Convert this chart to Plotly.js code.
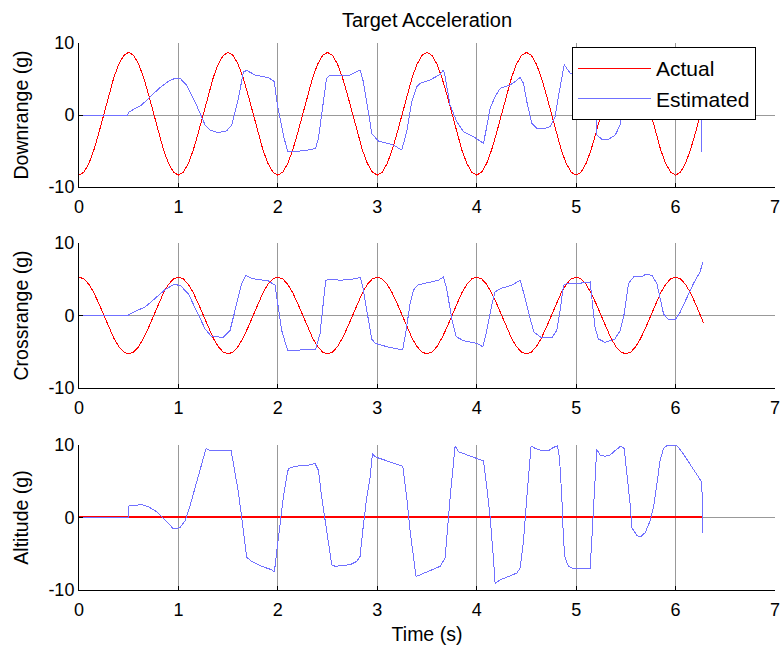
<!DOCTYPE html>
<html>
<head>
<meta charset="utf-8">
<script src="https://cdn.plot.ly/plotly-3.0.1.min.js"></script>
<style>
html,body{margin:0;padding:0;background:#fff;}
#chart{width:784px;height:655px;}
#chart path.js-line, #chart .legendlines path { shape-rendering: crispEdges; }
</style>
</head>
<body>
<div id="chart"></div>
<script>
// ---- Actual target acceleration (time, s) ----
const tActual = [0,0.05,0.1,0.15,0.2,0.25,0.3,0.35,0.4,0.45,
0.5,0.55,0.6,0.65,0.7,0.75,0.8,0.85,0.9,0.95,
1,1.05,1.1,1.15,1.2,1.25,1.3,1.35,1.4,1.45,
1.5,1.55,1.6,1.65,1.7,1.75,1.8,1.85,1.9,1.95,
2,2.05,2.1,2.15,2.2,2.25,2.3,2.35,2.4,2.45,
2.5,2.55,2.6,2.65,2.7,2.75,2.8,2.85,2.9,2.95,
3,3.05,3.1,3.15,3.2,3.25,3.3,3.35,3.4,3.45,
3.5,3.55,3.6,3.65,3.7,3.75,3.8,3.85,3.9,3.95,
4,4.05,4.1,4.15,4.2,4.25,4.3,4.35,4.4,4.45,
4.5,4.55,4.6,4.65,4.7,4.75,4.8,4.85,4.9,4.95,
5,5.05,5.1,5.15,5.2,5.25,5.3,5.35,5.4,5.45,
5.5,5.55,5.6,5.65,5.7,5.75,5.8,5.85,5.9,5.95,
6,6.05,6.1,6.15,6.2,6.25,6.28];

const actualDownrange = [-8.35,-7.93,-6.72,-4.84,-2.46,0.18,2.81,5.19,7.07,8.28,
8.7,8.28,7.07,5.19,2.81,0.18,-2.46,-4.84,-6.72,-7.93,
-8.35,-7.93,-6.72,-4.84,-2.46,0.18,2.81,5.19,7.07,8.28,
8.7,8.28,7.07,5.19,2.81,0.18,-2.46,-4.84,-6.72,-7.93,
-8.35,-7.93,-6.72,-4.84,-2.46,0.18,2.81,5.19,7.07,8.28,
8.7,8.28,7.07,5.19,2.81,0.18,-2.46,-4.84,-6.72,-7.93,
-8.35,-7.93,-6.72,-4.84,-2.46,0.18,2.81,5.19,7.07,8.28,
8.7,8.28,7.07,5.19,2.81,0.18,-2.46,-4.84,-6.72,-7.93,
-8.35,-7.93,-6.72,-4.84,-2.46,0.18,2.81,5.19,7.07,8.28,
8.7,8.28,7.07,5.19,2.81,0.18,-2.46,-4.84,-6.72,-7.93,
-8.35,-7.93,-6.72,-4.84,-2.46,0.18,2.81,5.19,7.07,8.28,
8.7,8.28,7.07,5.19,2.81,0.18,-2.46,-4.84,-6.72,-7.93,
-8.35,-7.93,-6.72,-4.84,-2.46,0.18,1.77];

const actualCrossrange = [5.3,5.04,4.29,3.12,1.64,0,-1.64,-3.12,-4.29,-5.04,
-5.3,-5.04,-4.29,-3.12,-1.64,0,1.64,3.12,4.29,5.04,
5.3,5.04,4.29,3.12,1.64,0,-1.64,-3.12,-4.29,-5.04,
-5.3,-5.04,-4.29,-3.12,-1.64,0,1.64,3.12,4.29,5.04,
5.3,5.04,4.29,3.12,1.64,0,-1.64,-3.12,-4.29,-5.04,
-5.3,-5.04,-4.29,-3.12,-1.64,0,1.64,3.12,4.29,5.04,
5.3,5.04,4.29,3.12,1.64,0,-1.64,-3.12,-4.29,-5.04,
-5.3,-5.04,-4.29,-3.12,-1.64,0,1.64,3.12,4.29,5.04,
5.3,5.04,4.29,3.12,1.64,0,-1.64,-3.12,-4.29,-5.04,
-5.3,-5.04,-4.29,-3.12,-1.64,0,1.64,3.12,4.29,5.04,
5.3,5.04,4.29,3.12,1.64,0,-1.64,-3.12,-4.29,-5.04,
-5.3,-5.04,-4.29,-3.12,-1.64,0,1.64,3.12,4.29,5.04,
5.3,5.04,4.29,3.12,1.64,0,-0.99];

const tActualAltitude = [0, 6.28];
const actualAltitude = [0, 0];

// ---- Estimated target acceleration ----
const tEstDownrange = [0,0.49,0.496,0.63,0.72,0.815,0.9,0.966,1.016,1.083,1.167,1.268,1.318,1.401,1.485,1.536,1.603,1.653,1.687,1.77,1.905,1.965,1.99,2.055,2.099,2.156,2.307,2.38,2.408,2.458,2.49,2.525,2.727,2.827,2.86,2.91,2.944,3.01,3.162,3.246,3.296,3.346,3.397,3.43,3.531,3.632,3.665,3.682,3.732,3.8,3.866,3.967,4.068,4.101,4.135,4.185,4.236,4.336,4.386,4.437,4.47,4.504,4.554,4.604,4.671,4.738,4.789,4.822,4.88,4.94,5.05,5.13,5.17,5.2,5.21,5.26,5.326,5.393,5.443,5.46,5.5,5.55,5.65,5.8,5.84,5.9,5.98,6.05,6.12,6.2,6.25,6.265];
const estDownrange = [0,0,0.37,1.39,2.6,3.8,4.7,5.1,5.1,4.17,1.85,-1.39,-2.08,-2.45,-2.2,-1.39,2.3,5.97,6.2,5.55,5.2,4.63,1.85,-2.78,-5.1,-5.1,-4.86,-4.63,-3.24,1.85,5.1,5.55,5.55,6.25,4.63,0.46,-2.55,-3.6,-4.17,-4.86,-2.3,1.85,3.94,4.4,4.86,5.65,6.25,5.32,1.39,-0.93,-2.3,-3.0,-3.93,-1.62,0.93,2.55,3.7,4.17,4.63,5.23,4.4,1.85,-1.16,-1.85,-1.94,-1.62,-0.23,2.55,7.0,5.79,5.5,5.2,2.5,0,-2.78,-3.38,-3.38,-2.78,-1.39,0,3.0,5.3,5.6,6.0,5.0,2.0,1.0,1.5,4.0,6.0,6.8,-5.1];

const tEstCrossrange = [0,0.49,0.546,0.664,0.781,0.865,0.949,1.016,1.1,1.184,1.268,1.334,1.452,1.519,1.569,1.636,1.677,1.737,1.905,1.972,1.999,2.039,2.099,2.24,2.38,2.424,2.468,2.481,2.525,2.626,2.794,2.827,2.854,2.894,2.944,2.978,3.095,3.212,3.256,3.279,3.33,3.363,3.403,3.497,3.614,3.665,3.698,3.749,3.793,3.866,4.0,4.061,4.101,4.151,4.185,4.236,4.353,4.437,4.47,4.537,4.577,4.655,4.755,4.805,4.839,4.873,4.906,5.074,5.141,5.157,5.19,5.224,5.29,5.39,5.443,5.483,5.527,5.578,5.66,5.694,5.761,5.812,5.845,5.879,5.929,5.996,6.046,6.113,6.18,6.247,6.274];
const estCrossrange = [0,0,0.46,1.16,2.55,3.56,4.26,4.17,3.0,0.69,-1.85,-2.92,-3.0,-2.08,0.69,4.4,5.56,5.09,4.77,4.17,1.62,-2.08,-4.86,-4.77,-4.63,-2.55,2.55,4.86,5.0,4.86,5.09,5.32,3.94,0.69,-3.24,-3.84,-4.3,-4.63,-4.63,-3.0,1.62,3.47,4.17,4.49,4.86,5.32,3.7,-0.46,-2.92,-3.47,-3.84,-4.3,-2.08,1.39,3.24,3.7,4.17,4.86,3.24,-0.46,-2.32,-3.1,-3.1,-2.08,0.69,4.17,4.4,4.49,4.63,2.55,-1.62,-3.24,-3.7,-3.24,-2.08,0.23,4.4,5.32,5.32,5.65,5.56,4.4,2.55,0.23,-0.6,-0.6,0.46,2.55,4.4,6.02,7.41];

const tEstAltitude = [0,0.495,0.503,0.58,0.614,0.697,0.781,0.832,0.899,0.949,1.016,1.066,1.117,1.167,1.217,1.251,1.278,1.318,1.503,1.529,1.553,1.603,1.636,1.687,1.737,1.838,1.938,1.965,1.989,2.012,2.055,2.089,2.106,2.173,2.307,2.374,2.408,2.441,2.475,2.508,2.542,2.576,2.727,2.794,2.827,2.861,2.894,2.928,2.952,2.978,3.028,3.196,3.256,3.296,3.33,3.39,3.531,3.632,3.682,3.715,3.739,3.783,3.816,4.0,4.068,4.101,4.135,4.168,4.185,4.236,4.403,4.437,4.47,4.504,4.537,4.547,4.588,4.655,4.722,4.772,4.812,4.832,4.856,4.873,4.889,4.923,4.973,5.14,5.157,5.174,5.19,5.207,5.241,5.29,5.34,5.39,5.449,5.483,5.51,5.543,5.56,5.61,5.644,5.694,5.744,5.778,5.812,5.845,5.879,5.913,6.013,6.063,6.13,6.197,6.264,6.274];
const estAltitude = [0,0,1.63,1.63,1.86,1.49,0.79,0.09,-0.93,-1.54,-1.4,-0.46,1.63,4.19,6.51,8.37,9.53,9.2,9.2,9.3,7.44,3.49,0,-5.49,-6.05,-6.74,-7.21,-7.53,-4.65,-1.86,2.79,5.58,6.74,7.07,7.21,7.44,6.51,2.79,-0.46,-3.95,-6.51,-6.74,-6.51,-6.05,-5.35,-0.93,2.79,5.58,8.83,8.37,8.14,7.44,7.07,2.79,-1.86,-8.14,-7.35,-6.74,-5.58,0,3.72,9.86,9.07,8.14,7.81,4.19,0,-5.58,-9.07,-8.6,-7.67,-6.98,-3.25,2.79,7.44,9.86,9.53,9.2,9.2,9.67,9.86,8.37,2.79,-3.25,-5.58,-6.74,-7.07,-7.07,-3.25,0.47,5.12,9.39,8.6,8.46,8.6,9.2,9.86,9.53,6.05,1.86,-1.4,-2.46,-2.7,-2.09,-0.46,1.4,4.65,7.9,9.53,9.9,9.9,9.07,7.67,6.28,4.88,-2.09];

// ---- Text ----
const chartTitle = 'Target Acceleration';
const yTitles = ['Downrange (g)', 'Crossrange (g)', 'Altitude (g)'];
const xTitle = 'Time (s)';
const seriesNames = ['Actual', 'Estimated'];
const xTicks = [0,1,2,3,4,5,6,7];
const yTicks = [-10,0,10];

const FONT = 'Liberation Sans, Arial, sans-serif';
const RED = 'rgb(255,0,0)';
const BLUE = 'rgb(112,112,255)';

const traces = [
  {x: tActual, y: actualDownrange, name: seriesNames[0], type: 'scatter', mode: 'lines',
   line: {color: RED, width: 1}, xaxis: 'x', yaxis: 'y'},
  {x: tEstDownrange, y: estDownrange, name: seriesNames[1], type: 'scatter', mode: 'lines',
   line: {color: BLUE, width: 1}, xaxis: 'x', yaxis: 'y'},
  {x: tActual, y: actualCrossrange, name: seriesNames[0], type: 'scatter', mode: 'lines', showlegend: false,
   line: {color: RED, width: 1}, xaxis: 'x2', yaxis: 'y2'},
  {x: tEstCrossrange, y: estCrossrange, name: seriesNames[1], type: 'scatter', mode: 'lines', showlegend: false,
   line: {color: BLUE, width: 1}, xaxis: 'x2', yaxis: 'y2'},
  {x: tActualAltitude, y: actualAltitude, name: seriesNames[0], type: 'scatter', mode: 'lines', showlegend: false,
   line: {color: RED, width: 2}, xaxis: 'x3', yaxis: 'y3'},
  {x: tEstAltitude, y: estAltitude, name: seriesNames[1], type: 'scatter', mode: 'lines', showlegend: false,
   line: {color: BLUE, width: 1}, xaxis: 'x3', yaxis: 'y3'}
];

function xAxis(anchor, title) {
  const a = {
    domain: [0, 1], anchor: anchor, range: [0, 7], tickvals: xTicks, ticktext: xTicks.map(String),
    showgrid: true, gridcolor: '#999999', gridwidth: 1, zeroline: false,
    showline: true, linecolor: '#000', linewidth: 1, mirror: false,
    ticks: 'inside', ticklen: 4, tickcolor: '#000', tickwidth: 1, ticklabelstandoff: 3,
    tickfont: {family: FONT, size: 18, color: '#000'}, fixedrange: true
  };
  if (title) a.title = {text: title, font: {family: FONT, size: 19.5, color: '#000'}, standoff: 8};
  return a;
}
function yAxis(anchor, domain, title) {
  return {
    domain: domain, anchor: anchor, range: [-10, 10], tickvals: yTicks, ticktext: yTicks.map(String),
    showgrid: true, gridcolor: '#999999', gridwidth: 1, zeroline: false,
    showline: true, linecolor: '#000', linewidth: 1, mirror: false,
    ticks: 'inside', ticklen: 4, tickcolor: '#000', tickwidth: 1,
    tickfont: {family: FONT, size: 18, color: '#000'}, fixedrange: true,
    title: {text: title, font: {family: FONT, size: 19.5, color: '#000'}, standoff: 14}
  };
}

const layout = {
  width: 784, height: 655,
  margin: {l: 79, r: 9, t: 43, b: 65},
  paper_bgcolor: '#fff', plot_bgcolor: '#fff',
  title: {text: chartTitle, font: {family: FONT, size: 20, color: '#000'},
          x: 0.5, xref: 'paper', y: 1 - 20/655, yref: 'container', yanchor: 'middle'},
  xaxis: xAxis('y'), yaxis: yAxis('x', [0.7367, 1], yTitles[0]),
  xaxis2: xAxis('y2'), yaxis2: yAxis('x2', [0.3693, 0.6344], yTitles[1]),
  xaxis3: xAxis('y3', xTitle), yaxis3: yAxis('x3', [0, 0.2651], yTitles[2]),
  showlegend: true,
  legend: {x: 0.7083, y: 0.9927, xanchor: 'left', yanchor: 'top',
           bgcolor: '#fff', bordercolor: '#000', borderwidth: 1,
           font: {family: FONT, size: 21, color: '#000'}, itemwidth: 73,
           traceorder: 'normal'}
};

Plotly.newPlot('chart', traces, layout, {staticPlot: true, displayModeBar: false});
</script>
</body>
</html>
